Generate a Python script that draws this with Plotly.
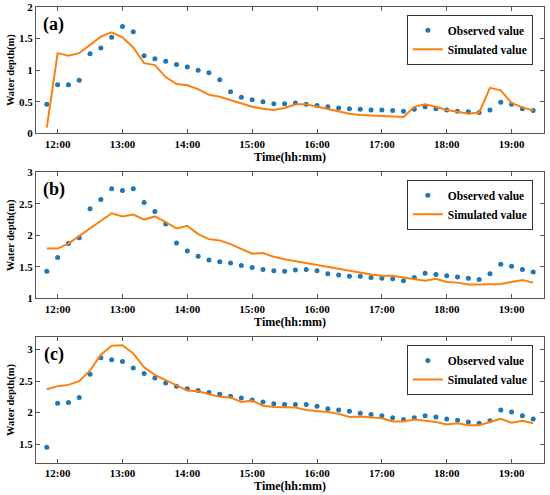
import pandas as pd
import plotly.graph_objects as go

times = pd.date_range("2020-01-01 11:50", "2020-01-01 19:20", freq="10min")

obs_a = [0.46, 0.77, 0.77, 0.84, 1.26, 1.35, 1.52, 1.69, 1.61, 1.23, 1.18, 1.14, 1.09, 1.05, 1.00, 0.96,
         0.85, 0.66, 0.57, 0.53, 0.50, 0.47, 0.47, 0.48, 0.46, 0.44, 0.42, 0.40, 0.39, 0.38, 0.37, 0.37,
         0.36, 0.35, 0.38, 0.42, 0.39, 0.37, 0.35, 0.34, 0.33, 0.37, 0.49, 0.46, 0.39, 0.36]
sim_a = [0.09, 1.27, 1.23, 1.27, 1.40, 1.53, 1.60, 1.52, 1.36, 1.11, 1.08, 0.89, 0.78, 0.76, 0.70, 0.61,
         0.58, 0.53, 0.47, 0.42, 0.39, 0.37, 0.40, 0.46, 0.46, 0.42, 0.38, 0.34, 0.31, 0.29, 0.28, 0.27,
         0.27, 0.26, 0.42, 0.46, 0.42, 0.37, 0.34, 0.31, 0.33, 0.72, 0.68, 0.48, 0.41, 0.36]

obs_b = [1.43, 1.65, 1.87, 1.96, 2.42, 2.57, 2.74, 2.71, 2.74, 2.52, 2.38, 2.18, 1.88, 1.75, 1.67, 1.61,
         1.58, 1.56, 1.52, 1.49, 1.46, 1.44, 1.43, 1.45, 1.46, 1.44, 1.39, 1.37, 1.35, 1.35, 1.33, 1.32,
         1.31, 1.28, 1.33, 1.40, 1.38, 1.36, 1.34, 1.32, 1.30, 1.39, 1.54, 1.51, 1.46, 1.42]
sim_b = [1.79, 1.79, 1.87, 1.99, 2.10, 2.23, 2.35, 2.30, 2.33, 2.25, 2.30, 2.21, 2.11, 2.15, 2.02, 1.94,
         1.92, 1.86, 1.78, 1.71, 1.72, 1.66, 1.62, 1.59, 1.56, 1.53, 1.49, 1.47, 1.44, 1.40, 1.38, 1.36,
         1.36, 1.33, 1.30, 1.28, 1.31, 1.26, 1.25, 1.22, 1.22, 1.22, 1.23, 1.26, 1.29, 1.25]

obs_c = [1.45, 2.15, 2.16, 2.24, 2.61, 2.87, 2.84, 2.81, 2.71, 2.62, 2.55, 2.47, 2.42, 2.38, 2.35, 2.32,
         2.29, 2.26, 2.23, 2.20, 2.17, 2.14, 2.13, 2.13, 2.13, 2.10, 2.06, 2.04, 2.02, 1.99, 1.97, 1.95,
         1.92, 1.89, 1.92, 1.95, 1.93, 1.90, 1.88, 1.85, 1.83, 1.87, 2.04, 2.01, 1.95, 1.90]
sim_c = [2.37, 2.42, 2.44, 2.50, 2.67, 2.92, 3.06, 3.07, 2.94, 2.72, 2.60, 2.52, 2.44, 2.35, 2.34, 2.30,
         2.25, 2.24, 2.17, 2.19, 2.11, 2.09, 2.09, 2.08, 2.04, 2.03, 2.01, 1.98, 1.93, 1.94, 1.93, 1.91,
         1.86, 1.86, 1.89, 1.87, 1.85, 1.81, 1.83, 1.80, 1.80, 1.85, 1.90, 1.84, 1.87, 1.83]

panels = [("(a)", obs_a, sim_a, [0, 2], [0, 0.5, 1, 1.5, 2], [0.723, 1.0], 0.983),
          ("(b)", obs_b, sim_b, [1, 3], [1, 1.5, 2, 2.5, 3], [0.361, 0.6375], 0.621),
          ("(c)", obs_c, sim_c, [1.2, 3.2], [1.5, 2, 2.5, 3], [0.0, 0.2763], 0.259)]

FONT = "Liberation Serif"
AXC = "#555555"
BLUE = "#1f77b4"
ORANGE = "#ff7f0e"

def f(size):
    return dict(family=FONT, size=size, color="black", weight="bold")

fig = go.Figure()
layout = {}
annotations = []
for i, (lab, obs, sim, yr, yt, dom, ly) in enumerate(panels):
    n = "" if i == 0 else str(i + 1)
    lg = "legend" if i == 0 else f"legend{i + 1}"
    fig.add_trace(go.Scatter(x=times, y=obs, mode="markers", name="Observed value",
                             marker=dict(color=BLUE, size=5), xaxis=f"x{n}", yaxis=f"y{n}", legend=lg))
    fig.add_trace(go.Scatter(x=times, y=sim, mode="lines", name="Simulated value",
                             line=dict(color=ORANGE, width=2), xaxis=f"x{n}", yaxis=f"y{n}", legend=lg))
    layout[f"xaxis{n}"] = dict(
        domain=[0, 1], anchor=f"y{n}", type="date", automargin=False,
        range=["2020-01-01 11:40", "2020-01-01 19:30"],
        tick0="2020-01-01 12:00", dtick=3600000, tickformat="%H:%M",
        showline=True, linecolor=AXC, linewidth=1, mirror="ticks",
        ticks="inside", ticklen=4, tickcolor=AXC, showgrid=False, zeroline=False,
        tickfont=f(11),
        title=dict(text="Time(hh:mm)", font=f(12), standoff=2),
    )
    layout[f"yaxis{n}"] = dict(
        domain=dom, anchor=f"x{n}", range=yr, tickvals=yt, automargin=False,
        showline=True, linecolor=AXC, linewidth=1, mirror="ticks",
        ticks="inside", ticklen=4, tickcolor=AXC, showgrid=False, zeroline=False,
        tickfont=f(11),
        title=dict(text="Water depth(m)", font=f(10.5), standoff=2),
    )
    layout[lg] = dict(x=0.978, y=ly, xanchor="right", yanchor="top",
                      bordercolor="#333333", borderwidth=1, bgcolor="white",
                      font=f(11.5), tracegroupgap=0, itemwidth=30)
    annotations.append(dict(text=lab, x=0.035, y=0.86, xanchor="center", yanchor="middle",
                            xref=f"x{n} domain", yref=f"y{n} domain", showarrow=False,
                            font=f(18)))

fig.update_layout(**layout)
fig.update_layout(width=550, height=495, margin=dict(l=36, r=6, t=7, b=32),
                  paper_bgcolor="white", plot_bgcolor="white", showlegend=True,
                  annotations=annotations)
fig.write_html("out.html", config={"displayModeBar": False},
               post_script="document.body.style.margin='0';")
